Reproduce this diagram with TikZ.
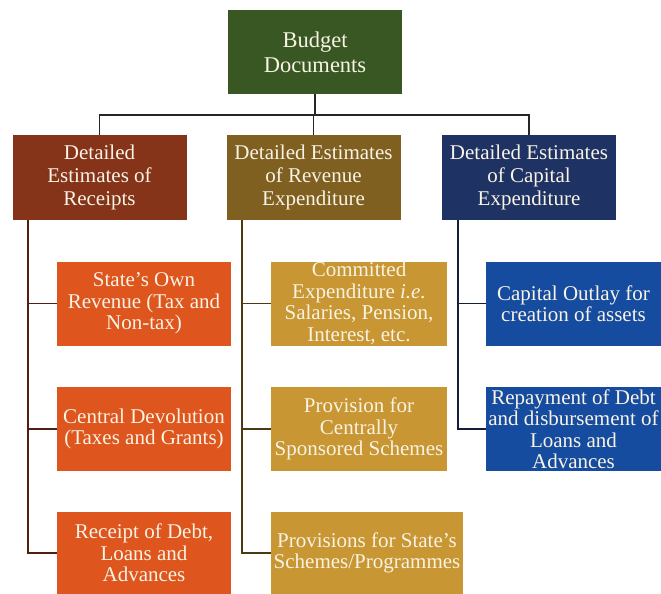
\documentclass[tikz,border=0pt]{standalone}
\usepackage{fontspec}
\setmainfont{Liberation Serif}
\definecolor{topgreen}{RGB}{56,87,35}
\definecolor{recdark}{RGB}{133,52,26}
\definecolor{revdark}{RGB}{127,96,33}
\definecolor{capdark}{RGB}{31,50,100}
\definecolor{reclight}{RGB}{222,85,30}
\definecolor{revlight}{RGB}{200,150,50}
\definecolor{caplight}{RGB}{22,76,160}
\definecolor{cream}{RGB}{248,243,228}
\tikzset{
	docbox/.style={fill=#1, text=cream, align=center, inner sep=0pt,
		minimum width=174pt, minimum height=84pt},
	headfont/.style={font=\fontsize{22.5}{25}\selectfont},
	midfont/.style={font=\fontsize{21}{23}\selectfont},
	subfont/.style={font=\fontsize{21}{21.5}\selectfont},
	link/.style={line width=1.8pt, draw=#1}
}
\begin{document}
\begin{tikzpicture}[x=1pt,y=-1pt]
		\useasboundingbox (0,0) rectangle (661,594);

		\node[docbox=topgreen, headfont] (budget) at (315,52) {Budget\\Documents};

		\node[docbox=recdark, midfont, minimum height=85pt] (receipts) at (99.5,177.5)
			{Detailed\\Estimates of\\Receipts};
		\node[docbox=revdark, midfont, minimum height=85pt] (revenue) at (313.5,177.5)
			{Detailed Estimates\\of Revenue\\Expenditure};
		\node[docbox=capdark, midfont, minimum height=85pt] (capital) at (529,177.5)
			{Detailed Estimates\\of Capital\\Expenditure};

		\node[docbox=reclight, subfont] (ownrev) at (144,303.5)
			{State's Own\\Revenue (Tax and\\Non-tax)};
		\node[docbox=reclight, subfont] (devolution) at (144,429)
			{Central Devolution\\(Taxes and Grants)};
		\node[docbox=reclight, subfont, minimum height=82pt] (debtrec) at (144,553)
			{Receipt of Debt,\\Loans and\\Advances};

		\node[docbox=revlight, subfont, minimum width=176pt] (committed) at (359,303.5)
			{Committed\\Expenditure \textit{i.e.}\\Salaries, Pension,\\Interest, etc.};
		\node[docbox=revlight, subfont, minimum width=176pt] (central) at (359,429)
			{Provision for\\Centrally\\Sponsored Schemes};
		\node[docbox=revlight, subfont, minimum width=192pt, minimum height=82pt] (statesch) at (367,553)
			{Provisions for State's\\Schemes/Programmes};

		\node[docbox=caplight, subfont, minimum width=175pt] (outlay) at (573.5,303.5)
			{Capital Outlay for\\creation of assets};
		\node[docbox=caplight, subfont, minimum width=175pt] (repay) at (573.5,429)
			{Repayment of Debt\\and disbursement of\\Loans and\\Advances};

		% top level
		\draw[link=black!85] (budget.south) -- ++(0,21) coordinate (bus);
		\draw[link=black!85] (receipts.north) |- (bus) -| (capital.north);
		\draw[link=black!85] (revenue.north) -- (revenue.north |- bus);

		% spines
		\coordinate (spinerec) at ([xshift=16pt]receipts.south west);
		\coordinate (spinerev) at ([xshift=16pt]revenue.south west);
		\coordinate (spinecap) at ([xshift=16pt]capital.south west);
		\draw[link=recdark!60!black] (spinerec) |- (debtrec.west);
		\draw[link=recdark!60!black] (ownrev.west) -- (ownrev.west -| spinerec);
		\draw[link=recdark!60!black] (devolution.west) -- (devolution.west -| spinerec);
		\draw[link=revdark!60!black] (spinerev) |- (statesch.west);
		\draw[link=revdark!60!black] (committed.west) -- (committed.west -| spinerev);
		\draw[link=revdark!60!black] (central.west) -- (central.west -| spinerev);
		\draw[link=capdark!60!black] (spinecap) |- (repay.west);
		\draw[link=capdark!60!black] (outlay.west) -- (outlay.west -| spinecap);
	\end{tikzpicture}
\end{document}
